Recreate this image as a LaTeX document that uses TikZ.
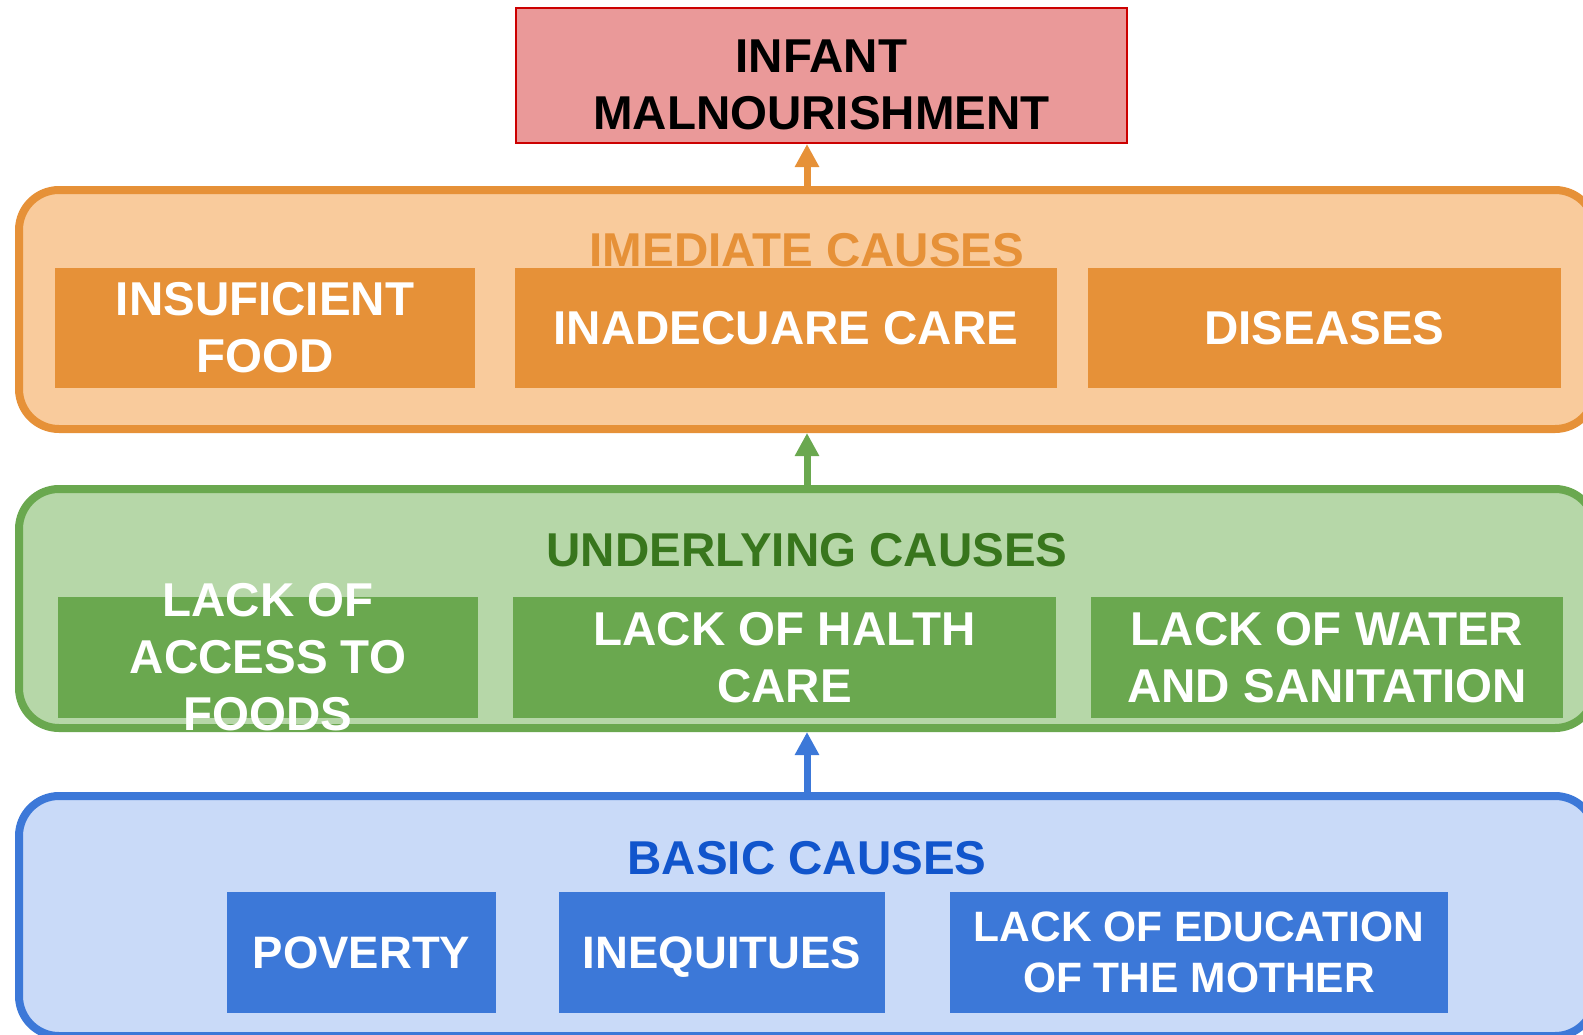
\documentclass[tikz,border=0pt]{standalone}
\usepackage{fontspec}
\setmainfont{Liberation Sans}
\usetikzlibrary{positioning,arrows.meta}

\definecolor{topfill}{HTML}{EA9999}
\definecolor{topline}{HTML}{CC0000}
\definecolor{orangefill}{HTML}{F9CB9C}
\definecolor{orangeline}{HTML}{E69138}
\definecolor{greenfill}{HTML}{B6D7A8}
\definecolor{greenline}{HTML}{6AA84F}
\definecolor{greentitle}{HTML}{38761D}
\definecolor{bluefill}{HTML}{C9DAF8}
\definecolor{blueline}{HTML}{3C78D8}
\definecolor{bluetitle}{HTML}{1155CC}

\begin{document}
\begin{tikzpicture}[x=1pt,y=-1pt,
    panel/.style={rectangle, rounded corners=40pt, line width=8pt, minimum width=1576pt, minimum height=239pt, inner sep=0pt},
    cause/.style={rectangle, inner sep=0pt, text=white, align=center, minimum height=121pt, font=\bfseries\fontsize{47.5}{57}\selectfont},
    basic/.style={cause, font=\bfseries\fontsize{45.5}{51}\selectfont},
    title/.style={anchor=base, font=\bfseries\fontsize{47.5}{57}\selectfont},
    arr/.style={line width=7pt, -{Triangle[width=23pt,length=23pt]}}]
    \useasboundingbox (0,0) rectangle (1583,1034);
    \clip (0,0) rectangle (1583,1034);

    % top
    \node[rectangle, draw=topline, fill=topfill, line width=2pt, minimum width=611pt, minimum height=135pt] (infant) at (821.5,75.5) {};
    \node[align=center, font=\bfseries\fontsize{47.5}{57}\selectfont] (infanttext) at ([yshift=-9pt]infant.center) {INFANT\\MALNOURISHMENT};

    % immediate causes
    \node[panel, draw=orangeline, fill=orangefill] (imed) at (807,309.5) {};
    \node[title, text=orangeline] (imedtitle) at (807,266) {IMEDIATE CAUSES};
    \node[cause, fill=orangeline, minimum width=420pt, minimum height=120pt] (food) at (265,328) {INSUFICIENT\\FOOD};
    \node[cause, fill=orangeline, minimum width=542pt, minimum height=120pt] (care) at (786,328) {INADECUARE CARE};
    \node[cause, fill=orangeline, minimum width=473pt, minimum height=120pt] (disease) at (1324.5,328) {DISEASES};

    % underlying causes
    \node[panel, draw=greenline, fill=greenfill] (under) at (807,608.5) {};
    \node[title, text=greentitle] (undertitle) at (807,566) {UNDERLYING CAUSES};
    \node[cause, fill=greenline, minimum width=420pt, inner ysep=-20pt] (access) at (268,657.5) {LACK OF\\ACCESS TO\\FOODS}; % text runs out of the box
    \node[cause, fill=greenline, minimum width=543pt] (health) at (784.5,657.5) {LACK OF HALTH\\CARE};
    \node[cause, fill=greenline, minimum width=472pt] (water) at (1327,657.5) {LACK OF WATER\\AND SANITATION};

    % basic causes
    \node[panel, draw=blueline, fill=bluefill, minimum height=240pt] (basicp) at (807,916) {};
    \node[title, text=bluetitle] (basictitle) at (807,874) {BASIC CAUSES};
    \node[basic, fill=blueline, minimum width=269pt] (poverty) at (361.5,952.5) {POVERTY};
    \node[basic, fill=blueline, minimum width=326pt, text depth=0pt] (inequ) at (722,952.5) {INEQUITUES};
    \node[basic, fill=blueline, minimum width=498pt, font=\bfseries\fontsize{42.5}{51}\selectfont] (educ) at (1199,952.5) {LACK OF EDUCATION\\OF THE MOTHER};

    % arrows
    \draw[arr, orangeline] (imed.north) -- (imed.north |- infant.south);
    \draw[arr, greenline] (under.north) -- (imed.south);
    \draw[arr, blueline] (basicp.north) -- (under.south);
\end{tikzpicture}
\end{document}
